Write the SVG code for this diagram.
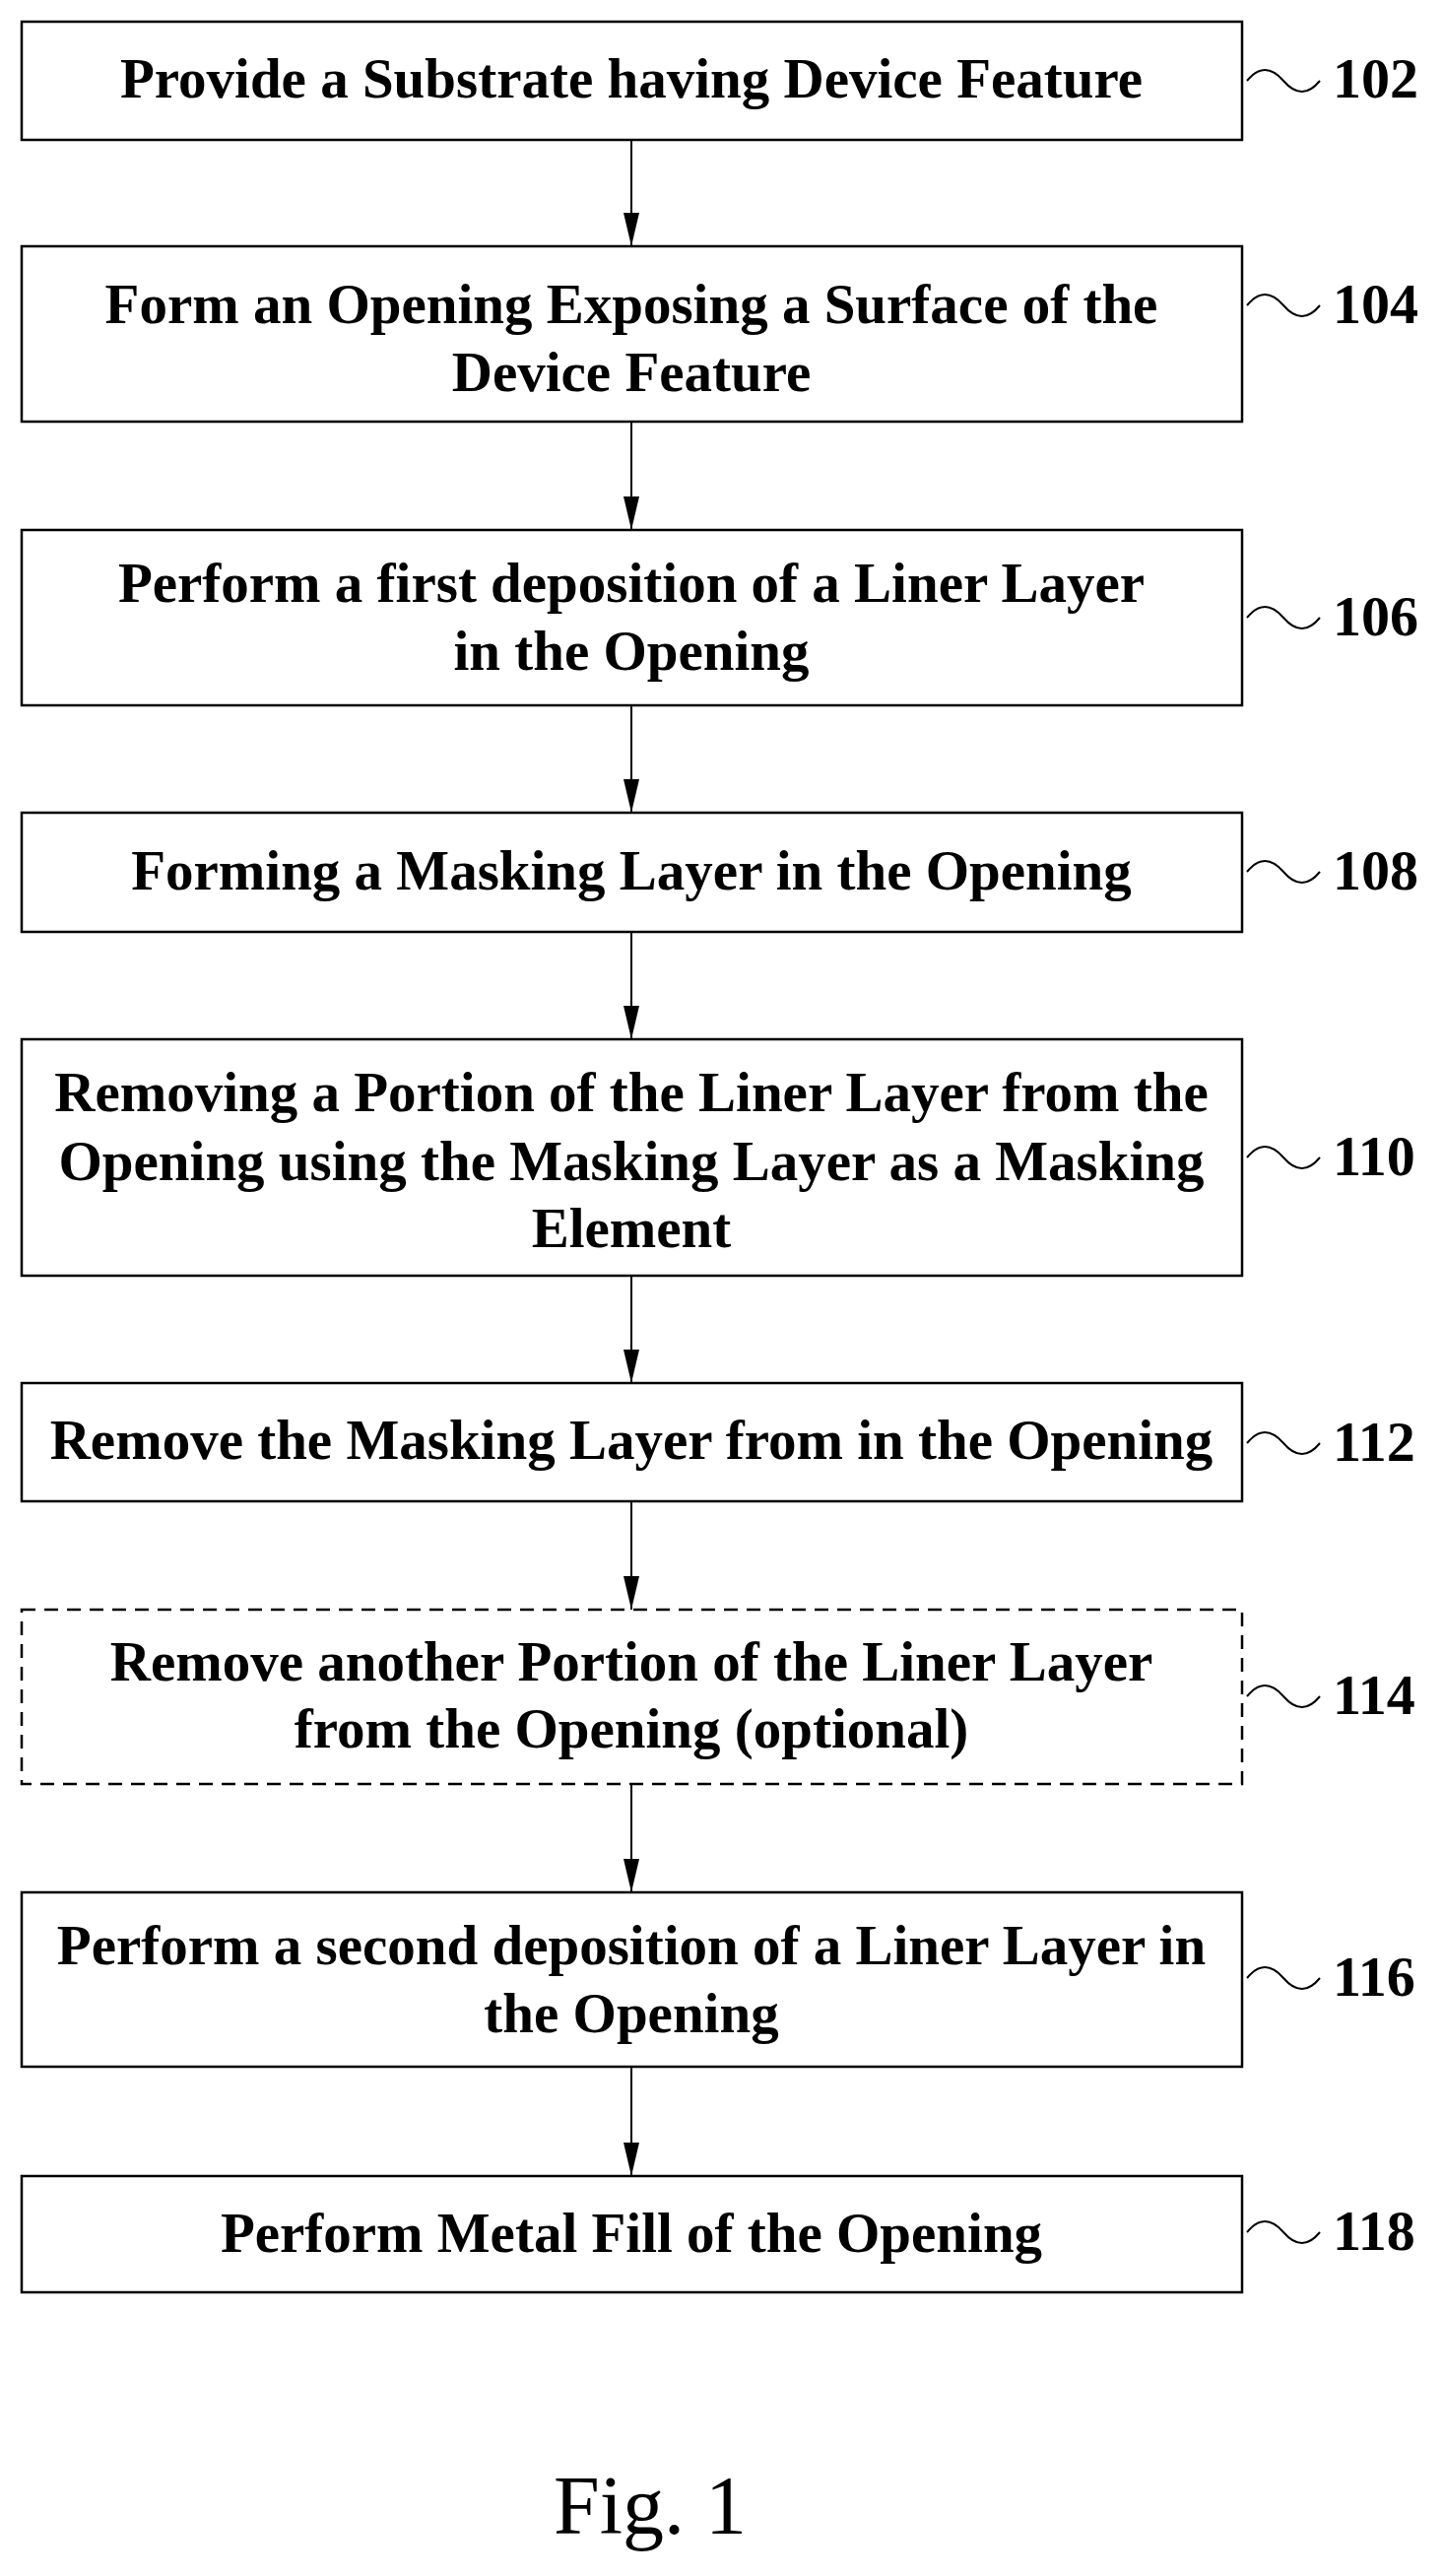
<svg xmlns="http://www.w3.org/2000/svg" width="1466" height="2615" viewBox="0 0 1466 2615">
<style>
.b{fill:#fff;stroke:#000;stroke-width:2.5}
.d{stroke-dasharray:14 9}
.t{font-family:"Liberation Serif",serif;font-weight:bold;font-size:57px;text-anchor:middle;fill:#000}
.l{font-family:"Liberation Serif",serif;font-weight:bold;font-size:58px;fill:#000}
.w{fill:none;stroke:#000;stroke-width:2}
.c{stroke:#000;stroke-width:2;fill:none}
</style>
<defs><marker id="a" markerWidth="34" markerHeight="16" refX="34" refY="8" orient="auto" markerUnits="userSpaceOnUse" viewBox="0 0 34 16"><path d="M0,0 L34,8 L0,16 Z" fill="#000"/></marker></defs>
<rect width="1466" height="2615" fill="#fff"/>
<g id="connectors">
<line class="c" x1="641" y1="142" x2="641" y2="250" marker-end="url(#a)"/>
<line class="c" x1="641" y1="428" x2="641" y2="538" marker-end="url(#a)"/>
<line class="c" x1="641" y1="716" x2="641" y2="825" marker-end="url(#a)"/>
<line class="c" x1="641" y1="946" x2="641" y2="1055" marker-end="url(#a)"/>
<line class="c" x1="641" y1="1295" x2="641" y2="1404" marker-end="url(#a)"/>
<line class="c" x1="641" y1="1524" x2="641" y2="1634" marker-end="url(#a)"/>
<line class="c" x1="641" y1="1811" x2="641" y2="1921" marker-end="url(#a)"/>
<line class="c" x1="641" y1="2098" x2="641" y2="2209" marker-end="url(#a)"/>
</g>
<g id="n102"><rect class="b" x="22" y="22" width="1239" height="120"/><text class="t" x="641" y="99">Provide a Substrate having Device Feature</text><path class="w" d="M1266,82 q18,-22 37,0 t37,0"/><text class="l" x="1353" y="99">102</text></g>
<g id="n104"><rect class="b" x="22" y="250" width="1239" height="178"/><text class="t" x="641" y="328">Form an Opening Exposing a Surface of the</text><text class="t" x="641" y="397">Device Feature</text><path class="w" d="M1266,310 q18,-22 37,0 t37,0"/><text class="l" x="1353" y="328">104</text></g>
<g id="n106"><rect class="b" x="22" y="538" width="1239" height="178"/><text class="t" x="641" y="611">Perform a first deposition of a Liner Layer</text><text class="t" x="641" y="680">in the Opening</text><path class="w" d="M1266,627 q18,-22 37,0 t37,0"/><text class="l" x="1353" y="645">106</text></g>
<g id="n108"><rect class="b" x="22" y="825" width="1239" height="121"/><text class="t" x="641" y="903">Forming a Masking Layer in the Opening</text><path class="w" d="M1266,885 q18,-22 37,0 t37,0"/><text class="l" x="1353" y="903">108</text></g>
<g id="n110"><rect class="b" x="22" y="1055" width="1239" height="240"/><text class="t" x="641" y="1128">Removing a Portion of the Liner Layer from the</text><text class="t" x="641" y="1198">Opening using the Masking Layer as a Masking</text><text class="t" x="641" y="1266">Element</text><path class="w" d="M1266,1175 q18,-22 37,0 t37,0"/><text class="l" x="1353" y="1193">110</text></g>
<g id="n112"><rect class="b" x="22" y="1404" width="1239" height="120"/><text class="t" x="641" y="1481">Remove the Masking Layer from in the Opening</text><path class="w" d="M1266,1465 q18,-22 37,0 t37,0"/><text class="l" x="1353" y="1483">112</text></g>
<g id="n114"><rect class="b d" x="22" y="1634" width="1239" height="177"/><text class="t" x="641" y="1706">Remove another Portion of the Liner Layer</text><text class="t" x="641" y="1774">from the Opening (optional)</text><path class="w" d="M1266,1722 q18,-22 37,0 t37,0"/><text class="l" x="1353" y="1740">114</text></g>
<g id="n116"><rect class="b" x="22" y="1921" width="1239" height="177"/><text class="t" x="641" y="1994">Perform a second deposition of a Liner Layer in</text><text class="t" x="641" y="2063">the Opening</text><path class="w" d="M1266,2008 q18,-22 37,0 t37,0"/><text class="l" x="1353" y="2026">116</text></g>
<g id="n118"><rect class="b" x="22" y="2209" width="1239" height="118"/><text class="t" x="641" y="2286">Perform Metal Fill of the Opening</text><path class="w" d="M1266,2266 q18,-22 37,0 t37,0"/><text class="l" x="1353" y="2284">118</text></g>
<text x="660" y="2572" font-family="Liberation Serif,serif" font-size="84" text-anchor="middle">Fig. 1</text>
</svg>
